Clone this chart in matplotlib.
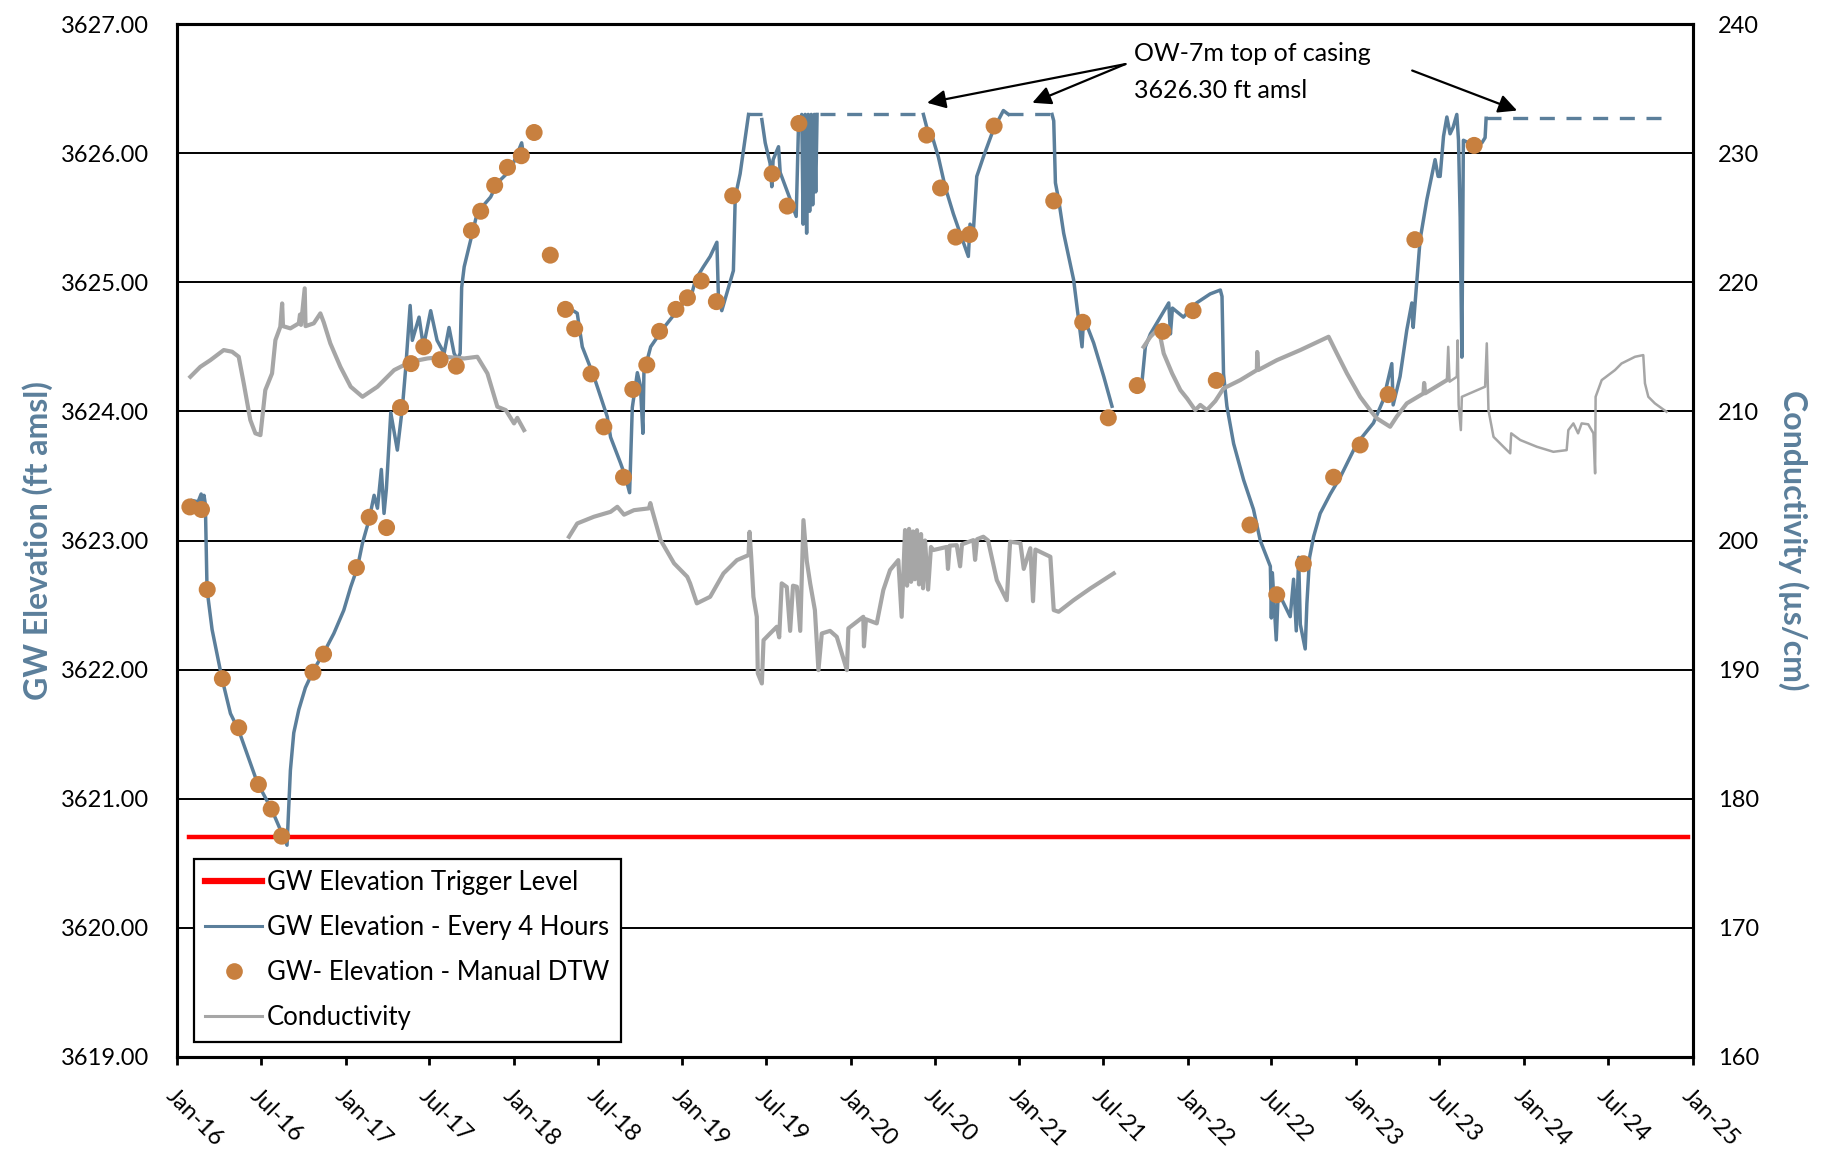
import numpy as np
import pandas as pd
import matplotlib
matplotlib.use('Agg')
import matplotlib.pyplot as plt
import matplotlib.dates as mdates
from matplotlib.lines import Line2D

plt.rcParams['font.family'] = ['Lato', 'DejaVu Sans']

# ---- data (decimal years) ----
# GW elevation every 4 hours, logger record (3 pieces with gaps)
gw1_yr = [2016.089, 2016.125, 2016.143, 2016.154, 2016.160, 2016.168, 2016.178, 2016.208, 2016.267, 2016.317,
          2016.366, 2016.475, 2016.564, 2016.653, 2016.673, 2016.693, 2016.723, 2016.762, 2016.812, 2016.871,
          2016.931, 2016.990, 2017.029, 2017.069, 2017.099, 2017.138, 2017.168, 2017.188, 2017.211, 2017.227,
          2017.241, 2017.267, 2017.306, 2017.336, 2017.356, 2017.382, 2017.395, 2017.435, 2017.461, 2017.504,
          2017.542, 2017.584, 2017.613, 2017.643, 2017.663, 2017.679, 2017.688, 2017.703, 2017.742, 2017.781,
          2017.860, 2017.900, 2017.979, 2018.045, 2018.059]
gw1_el = [3623.31, 3623.30, 3623.36, 3623.25, 3623.35, 3623.28, 3622.62, 3622.31, 3621.93, 3621.66,
          3621.53, 3621.13, 3620.91, 3620.64, 3621.22, 3621.51, 3621.69, 3621.86, 3622.00, 3622.13,
          3622.28, 3622.46, 3622.64, 3622.79, 3622.98, 3623.16, 3623.35, 3623.25, 3623.55, 3623.21,
          3623.40, 3623.99, 3623.70, 3624.03, 3624.34, 3624.82, 3624.55, 3624.73, 3624.50, 3624.78,
          3624.55, 3624.45, 3624.65, 3624.45, 3624.40, 3624.45, 3624.96, 3625.12, 3625.33, 3625.54,
          3625.66, 3625.77, 3625.87, 3626.08, 3625.96]

gw2_yr = [2018.326, 2018.375, 2018.405, 2018.474, 2018.553, 2018.573, 2018.632, 2018.662, 2018.686, 2018.702,
          2018.732, 2018.750, 2018.765, 2018.771, 2018.811, 2018.890, 2018.969, 2019.058, 2019.078, 2019.125,
          2019.165, 2019.205, 2019.214, 2019.234, 2019.303, 2019.314, 2019.343, 2019.393,
          2019.472, 2019.492, 2019.521, 2019.531, 2019.539, 2019.571, 2019.581, 2019.641, 2019.676, 2019.689,
          2019.709, 2019.717, 2019.729, 2019.738, 2019.747, 2019.756, 2019.765, 2019.774, 2019.783, 2019.792,
          2019.800, 2019.809, 2019.818,
          2020.432, 2020.452, 2020.482, 2020.521, 2020.561, 2020.610, 2020.650, 2020.699, 2020.709, 2020.729,
          2020.749, 2020.788, 2020.847, 2020.907, 2020.937,
          2021.194, 2021.204, 2021.214, 2021.233, 2021.263, 2021.322, 2021.372, 2021.382, 2021.441, 2021.501,
          2021.550]
gw2_el = [3624.80, 3624.76, 3624.50, 3624.27, 3623.96, 3623.80, 3623.60, 3623.49, 3623.37, 3624.03,
          3624.30, 3624.20, 3623.83, 3624.30, 3624.50, 3624.65, 3624.78, 3624.92, 3625.02, 3625.12,
          3625.20, 3625.31, 3624.89, 3624.78, 3625.09, 3625.66, 3625.84, 3626.30,
          3626.26, 3626.08, 3625.92, 3625.74, 3625.95, 3626.05, 3625.85, 3625.64, 3625.51, 3626.18,
          3626.30, 3625.45, 3626.30, 3625.38, 3626.30, 3625.55, 3626.30, 3625.60, 3626.30, 3625.70,
          3626.30, 3625.85, 3626.30,
          3626.30, 3626.20, 3626.14, 3625.97, 3625.74, 3625.53, 3625.38, 3625.20, 3625.45, 3625.40,
          3625.82, 3625.97, 3626.18, 3626.33, 3626.30,
          3626.30, 3626.25, 3625.77, 3625.64, 3625.38, 3625.02, 3624.50, 3624.73, 3624.53, 3624.27,
          3624.04]

gw3_yr = [2021.729, 2021.748, 2021.778, 2021.837, 2021.887, 2021.897, 2021.909, 2021.974, 2022.053, 2022.134,
          2022.194, 2022.204, 2022.213, 2022.233, 2022.273, 2022.332, 2022.391, 2022.431, 2022.491, 2022.497,
          2022.503, 2022.526, 2022.538, 2022.609, 2022.629, 2022.645, 2022.659, 2022.669, 2022.698, 2022.708,
          2022.724, 2022.748, 2022.787, 2022.847, 2022.906, 2023.005, 2023.104, 2023.163, 2023.213, 2023.221,
          2023.262, 2023.302, 2023.332, 2023.340, 2023.381, 2023.421, 2023.470, 2023.488, 2023.500, 2023.520,
          2023.540, 2023.559, 2023.577, 2023.599, 2023.609, 2023.619, 2023.629, 2023.638, 2023.698, 2023.748,
          2023.767, 2023.773]
gw3_el = [3624.24, 3624.50, 3624.60, 3624.73, 3624.84, 3624.60, 3624.80, 3624.73, 3624.84, 3624.91,
          3624.94, 3624.89, 3624.29, 3624.04, 3623.75, 3623.47, 3623.24, 3623.00, 3622.80, 3622.40,
          3622.75, 3622.23, 3622.60, 3622.41, 3622.70, 3622.30, 3622.87, 3622.35, 3622.16, 3622.51,
          3622.87, 3623.03, 3623.21, 3623.36, 3623.49, 3623.75, 3623.91, 3624.09, 3624.37, 3624.05,
          3624.27, 3624.63, 3624.84, 3624.65, 3625.33, 3625.64, 3625.95, 3625.82, 3625.82, 3626.13,
          3626.28, 3626.15, 3626.20, 3626.30, 3626.10, 3625.50, 3624.42, 3626.10, 3626.06, 3626.08,
          3626.12, 3626.27]

# periods where water sat at top of casing (dashed)
casing_start = [2019.393, 2019.818, 2020.937, 2023.773]
casing_end = [2019.472, 2020.432, 2021.194, 2024.817]
casing_el = [3626.30, 3626.30, 3626.30, 3626.27]

# manual depth-to-water readings
man_yr = [2016.076, 2016.145, 2016.179, 2016.269, 2016.366, 2016.483, 2016.559, 2016.621, 2016.807, 2016.870,
          2017.063, 2017.139, 2017.242, 2017.325, 2017.387, 2017.463, 2017.560, 2017.656, 2017.746, 2017.801,
          2017.884, 2017.960, 2018.043, 2018.119, 2018.215, 2018.305, 2018.360, 2018.457, 2018.533, 2018.650,
          2018.705, 2018.788, 2018.864, 2018.961, 2019.030, 2019.112, 2019.202, 2019.299, 2019.533, 2019.623,
          2019.692, 2020.451, 2020.534, 2020.624, 2020.707, 2020.852, 2021.204, 2021.376, 2021.528, 2021.700,
          2021.852, 2022.032, 2022.170, 2022.370, 2022.529, 2022.687, 2022.867, 2023.025, 2023.191, 2023.350,
          2023.702]
man_el = [3623.26, 3623.24, 3622.62, 3621.93, 3621.55, 3621.11, 3620.92, 3620.71, 3621.98, 3622.12,
          3622.79, 3623.18, 3623.10, 3624.03, 3624.37, 3624.50, 3624.40, 3624.35, 3625.40, 3625.55,
          3625.75, 3625.89, 3625.98, 3626.16, 3625.21, 3624.79, 3624.64, 3624.29, 3623.88, 3623.49,
          3624.17, 3624.36, 3624.62, 3624.79, 3624.88, 3625.01, 3624.85, 3625.67, 3625.84, 3625.59,
          3626.23, 3626.14, 3625.73, 3625.35, 3625.37, 3626.21, 3625.63, 3624.69, 3623.95, 3624.20,
          3624.62, 3624.78, 3624.24, 3623.12, 3622.58, 3622.82, 3623.49, 3623.74, 3624.13, 3625.33,
          3626.06]

# conductivity (us/cm)
c1_yr = [2016.079, 2016.138, 2016.198, 2016.277, 2016.327, 2016.366, 2016.396, 2016.435, 2016.465, 2016.495,
         2016.524, 2016.564, 2016.584, 2016.613, 2016.624, 2016.629, 2016.673, 2016.723, 2016.730, 2016.736,
         2016.758, 2016.763, 2016.812, 2016.851, 2016.871, 2016.910, 2016.970, 2017.029, 2017.099, 2017.188,
         2017.287, 2017.385, 2017.485, 2017.584, 2017.703, 2017.781, 2017.841, 2017.900, 2017.950, 2017.999,
         2018.019, 2018.059]
c1_val = [212.68, 213.45, 213.97, 214.75, 214.62, 214.23, 212.17, 209.33, 208.30, 208.16,
          211.65, 212.94, 215.52, 216.55, 218.36, 216.60, 216.43, 216.82, 217.50, 216.70,
          219.53, 216.60, 216.82, 217.59, 216.90, 215.27, 213.45, 211.91, 211.13, 211.91,
          213.20, 213.84, 214.10, 214.23, 214.10, 214.23, 212.94, 210.36, 210.10, 209.07,
          209.50, 208.55]

c2_yr = [2018.326, 2018.375, 2018.474, 2018.573, 2018.613, 2018.653, 2018.712, 2018.801, 2018.809, 2018.821,
         2018.870, 2018.950, 2019.029, 2019.046, 2019.086, 2019.165, 2019.244, 2019.324, 2019.393, 2019.399,
         2019.409, 2019.422, 2019.442, 2019.448, 2019.472, 2019.482, 2019.521, 2019.561, 2019.575, 2019.590,
         2019.620, 2019.640, 2019.657, 2019.680, 2019.700, 2019.719, 2019.739, 2019.759, 2019.787, 2019.808,
         2019.828, 2019.877, 2019.917, 2019.977, 2019.986, 2020.075, 2020.079, 2020.091, 2020.155, 2020.194,
         2020.234, 2020.283, 2020.303, 2020.323, 2020.335, 2020.347, 2020.359, 2020.371, 2020.382, 2020.394,
         2020.406, 2020.418, 2020.430, 2020.442, 2020.460, 2020.477, 2020.491, 2020.570, 2020.578, 2020.588,
         2020.630, 2020.650, 2020.661, 2020.729, 2020.739, 2020.751, 2020.788, 2020.816, 2020.868, 2020.927,
         2020.947, 2021.006, 2021.026, 2021.065, 2021.081, 2021.095, 2021.184, 2021.204, 2021.233, 2021.322,
         2021.422, 2021.560]
c2_val = [200.29, 201.32, 201.84, 202.22, 202.61, 202.00, 202.35, 202.49, 202.90, 202.30,
          200.03, 198.23, 197.19, 196.68, 195.13, 195.64, 197.45, 198.48, 198.87, 200.67,
          198.70, 195.64, 194.09, 189.71, 188.93, 192.28, 192.80, 193.32, 192.50, 196.68,
          196.40, 193.00, 196.50, 196.42, 193.00, 201.58, 198.40, 196.68, 194.61, 189.96,
          192.80, 193.00, 192.54, 189.96, 193.20, 194.09, 191.80, 193.90, 193.58, 196.16,
          197.71, 198.48, 194.09, 200.81, 196.50, 200.90, 196.80, 200.70, 197.00, 200.80,
          196.60, 200.50, 196.30, 200.00, 196.20, 199.50, 199.26, 199.50, 197.80, 199.60,
          199.64, 198.00, 199.70, 200.03, 198.50, 200.10, 200.29, 200.00, 196.93, 195.38,
          199.90, 199.80, 197.80, 199.40, 195.30, 199.30, 198.74, 194.61, 194.48, 195.38,
          196.29, 197.45]

c3_yr = [2021.738, 2021.778, 2021.827, 2021.857, 2021.907, 2021.956, 2021.996, 2022.045, 2022.075, 2022.114,
         2022.164, 2022.213, 2022.312, 2022.411, 2022.413, 2022.419, 2022.530, 2022.669, 2022.837, 2022.886,
         2022.946, 2023.025, 2023.084, 2023.124, 2023.203, 2023.242, 2023.302, 2023.401, 2023.405, 2023.411,
         2023.540]
c3_val = [215.00, 215.78, 216.43, 214.49, 212.94, 211.65, 211.00, 210.10, 210.50, 210.10,
          210.80, 211.78, 212.42, 213.20, 214.60, 213.20, 213.97, 214.75, 215.78, 214.49,
          212.94, 211.13, 210.10, 209.46, 208.81, 209.59, 210.62, 211.39, 212.20, 211.40,
          212.42]

# last part of record logged with thinner trace
c4_yr = [2023.540, 2023.548, 2023.556, 2023.599, 2023.604, 2023.610, 2023.623, 2023.629, 2023.698, 2023.767,
         2023.777, 2023.787, 2023.817, 2023.876, 2023.916, 2023.922, 2023.976, 2024.075, 2024.173, 2024.252,
         2024.262, 2024.292, 2024.320, 2024.341, 2024.380, 2024.411, 2024.421, 2024.424, 2024.460, 2024.539,
         2024.578, 2024.658, 2024.707, 2024.717, 2024.737, 2024.776, 2024.845]
c4_val = [212.42, 215.00, 212.30, 212.68, 215.50, 210.50, 208.55, 211.13, 211.52, 211.91,
          215.27, 210.10, 208.03, 207.26, 206.75, 208.30, 207.78, 207.26, 206.87, 207.00,
          208.55, 209.07, 208.30, 209.07, 209.00, 208.30, 205.20, 211.13, 212.42, 213.20,
          213.71, 214.23, 214.36, 212.17, 211.13, 210.62, 209.97]

trigger_level = 3620.70
trigger_span = [2016.07, 2024.97]

top_of_casing_txt = 'OW-7m top of casing\n3626.30 ft amsl'


def to_dates(yrs):
    out = []
    for y in yrs:
        yi = int(y)
        out.append(pd.Timestamp(yi, 1, 1) + pd.Timedelta(days=(y - yi) * 365.25))
    return out


blue = '#5b7f9b'
orange = '#c8803f'
grey = '#a6a6a6'

fig = plt.figure(figsize=(18.33, 11.5), dpi=100)
ax1 = fig.add_axes([0.0966, 0.0809, 0.827, 0.8982])
ax2 = ax1.twinx()

# grid + trigger level
ax1.set_ylim(3619, 3627)
ax1.set_yticks(np.arange(3619, 3627.1, 1))
ax1.yaxis.grid(True, color='black', lw=1.4)
ax1.set_axisbelow(True)
ax1.plot(to_dates(trigger_span), [trigger_level, trigger_level], color='red', lw=3.2, zorder=2)

# logger record
for xs, ys in [(gw1_yr, gw1_el), (gw2_yr, gw2_el), (gw3_yr, gw3_el)]:
    # break the trace where the water sat at the casing (drawn dashed below)
    xs = np.array(xs)
    ys = np.array(ys)
    brk = [0]
    for s, e in zip(casing_start, casing_end):
        i0 = np.where(np.isclose(xs, s))[0]
        i1 = np.where(np.isclose(xs, e))[0]
        if len(i0) and len(i1):
            brk.append((i0[0], i1[0]))
    start = 0
    for b in brk[1:]:
        ax1.plot(to_dates(xs[start:b[0] + 1]), ys[start:b[0] + 1], color=blue, lw=2.5, zorder=3)
        start = b[1]
    ax1.plot(to_dates(xs[start:]), ys[start:], color=blue, lw=2.5, zorder=3)

for s, e, el in zip(casing_start, casing_end, casing_el):
    ax1.plot(to_dates([s, e]), [el, el], color=blue, lw=2.4, ls=(0, (4.5, 3.5)), zorder=3)

# conductivity on the secondary axis
ax2.set_ylim(160, 240)
ax2.set_yticks(np.arange(160, 241, 10))
for xs, ys in [(c1_yr, c1_val), (c2_yr, c2_val), (c3_yr, c3_val)]:
    ax2.plot(to_dates(xs), ys, color=grey, lw=3.0, zorder=2)
ax2.plot(to_dates(c4_yr), c4_val, color=grey, lw=1.8, zorder=2)

# manual readings drawn above the conductivity trace
ax2.scatter(to_dates(man_yr), man_el, s=150, color=orange, edgecolors='none', zorder=4,
            transform=ax1.transData)

ax1.set_xlim(pd.Timestamp(2016, 1, 1), pd.Timestamp(2025, 1, 1))
ax1.xaxis.set_major_locator(mdates.MonthLocator(bymonth=[1, 7]))
ax1.xaxis.set_major_formatter(mdates.DateFormatter('%b-%y'))
for lab in ax1.get_xticklabels():
    lab.set_rotation(-45)
    lab.set_ha('left')
    lab.set_va('top')
    lab.set_rotation_mode('anchor')

ax1.yaxis.set_major_formatter(matplotlib.ticker.FormatStrFormatter('%.2f'))
ax1.tick_params(axis='x', length=6, width=2, labelsize=17, pad=14)
ax1.tick_params(axis='y', length=0, labelsize=17, pad=20)
ax2.tick_params(axis='y', length=0, labelsize=17, pad=18)

for ax in [ax1, ax2]:
    for sp in ax.spines.values():
        sp.set_linewidth(2.2)
        sp.set_color('black')

ax1.set_ylabel('GW Elevation (ft amsl)', fontsize=23, fontweight='bold', color=blue, labelpad=6)
ax2.set_ylabel('Conductivity (\u00b5s/cm)', fontsize=23, fontweight='bold', color=blue,
               rotation=-90, labelpad=36)

# annotation for top of casing
ax2.text(pd.Timestamp(2021, 9, 7), 3626.63, top_of_casing_txt, transform=ax1.transData,
         fontsize=18, ha='left', va='center', linespacing=1.75)
arrow_kw = dict(arrowstyle='-|>', color='black', lw=1.6, mutation_scale=28, shrinkA=0, shrinkB=0)
tail = to_dates([2021.63, 2023.334])
ax1.annotate('', xy=(to_dates([2020.454])[0], 3626.39), xytext=(tail[0], 3626.69), arrowprops=arrow_kw)
ax1.annotate('', xy=(to_dates([2021.077])[0], 3626.39), xytext=(tail[0], 3626.69), arrowprops=arrow_kw)
ax1.annotate('', xy=(to_dates([2023.957])[0], 3626.33), xytext=(tail[1], 3626.64), arrowprops=arrow_kw)

# legend
handles = [Line2D([], [], color='red', lw=4.5),
           Line2D([], [], color=blue, lw=2.2),
           Line2D([], [], ls='none', marker='o', ms=12, color=orange, mec='none'),
           Line2D([], [], color=grey, lw=2.2)]
labels = ['GW Elevation Trigger Level', 'GW Elevation - Every 4 Hours',
          'GW- Elevation - Manual DTW', 'Conductivity']
leg = ax2.legend(handles, labels, loc='lower left', bbox_to_anchor=(0.011, 0.0145), borderaxespad=0,
                 fontsize=18.5, fancybox=False, framealpha=1, edgecolor='black', handlelength=2.2,
                 handletextpad=0.2, labelspacing=0.78, borderpad=0.45)
leg.get_frame().set_linewidth(1.6)

fig.savefig('out.png', dpi=100)
